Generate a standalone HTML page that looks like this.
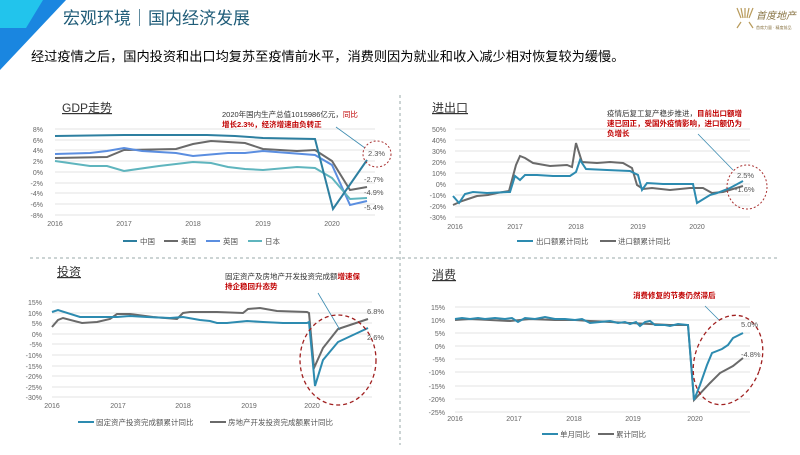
<!DOCTYPE html>
<html><head><meta charset="utf-8"><style>
body{margin:0;width:800px;height:450px;overflow:hidden;background:#fff;font-family:"Liberation Sans","Noto Sans CJK SC",sans-serif}
svg text{font-family:"Liberation Sans","Noto Sans CJK SC",sans-serif}
</style></head><body>
<svg width="800" height="450" viewBox="0 0 800 450" xmlns="http://www.w3.org/2000/svg">
<!-- header -->
<polygon points="0,0 66,0 0,70" fill="#1a86e0"/>
<polygon points="0,0 43,0 26,28 0,28" fill="#22c4ec"/>
<text x="63" y="24" font-size="17" fill="#1f5c78">宏观环境｜国内经济发展</text>
<text x="31" y="61" font-size="13.2" fill="#000">经过疫情之后，国内投资和出口均复苏至疫情前水平，消费则因为就业和收入减少相对恢复较为缓慢。</text>
<g stroke="#b89a5a" stroke-width="1.2">
<line x1="737" y1="8" x2="741" y2="18"/><line x1="741" y1="8" x2="743" y2="18"/><line x1="745" y1="8" x2="745" y2="18"/><line x1="749" y1="8" x2="747" y2="18"/><line x1="753" y1="8" x2="749" y2="18"/>
<line x1="737" y1="28" x2="741" y2="22"/><line x1="753" y1="28" x2="749" y2="22"/>
</g>
<text x="756" y="19" font-size="10" fill="#8a7545" font-style="italic">首度地产</text>
<text x="756" y="29" font-size="4" fill="#8a7545">首席力量 · 精度前品</text>
<!-- dividers -->
<line x1="400" y1="95" x2="400" y2="445" stroke="#9aa" stroke-dasharray="3,3"/>
<line x1="30" y1="258" x2="780" y2="258" stroke="#9aa" stroke-dasharray="3,3"/>

<!-- GDP -->
<text x="62" y="112" font-size="12" fill="#333" text-decoration="underline">GDP走势</text>
<g stroke="#e3e3e3" stroke-width="1">
<line x1="55" y1="129" x2="375" y2="129"/><line x1="55" y1="140" x2="375" y2="140"/><line x1="55" y1="150" x2="375" y2="150"/><line x1="55" y1="161" x2="375" y2="161"/><line x1="55" y1="172" x2="375" y2="172"/><line x1="55" y1="183" x2="375" y2="183"/><line x1="55" y1="193" x2="375" y2="193"/><line x1="55" y1="204" x2="375" y2="204"/><line x1="55" y1="215" x2="375" y2="215"/>
</g>
<g font-size="7" fill="#666" text-anchor="end">
<text x="43" y="132">8%</text><text x="43" y="143">6%</text><text x="43" y="153">4%</text><text x="43" y="164">2%</text><text x="43" y="175">0%</text><text x="43" y="186">-2%</text><text x="43" y="196">-4%</text><text x="43" y="207">-6%</text><text x="43" y="218">-8%</text>
</g>
<g font-size="7" fill="#666" text-anchor="middle">
<text x="55" y="226">2016</text><text x="124" y="226">2017</text><text x="193" y="226">2018</text><text x="263" y="226">2019</text><text x="332" y="226">2020</text>
</g>
<g fill="none" stroke-width="2">
<polyline stroke="#6a6a6a" points="55,158 107,157 124,150 176,149 193,144 211,141 245,143 263,149 297,151 315,150 332,161 350,190 367,187"/>
<polyline stroke="#5b8ee0" points="55,154 90,153 107,151 124,148 142,151 176,153 193,156 228,153 245,153 263,151 315,155 332,165 350,205 367,201"/>
<polyline stroke="#5fb5be" points="55,161 90,166 107,166 124,171 159,166 193,162 211,163 228,167 245,169 263,170 297,167 315,168 332,178 350,199 367,198"/>
<polyline stroke="#2d7fa0" points="55,136 124,135 207,135 235,136 263,138 315,139 333,209 367,160"/>
</g>
<text x="222" y="117" font-size="7.5" fill="#333">2020年国内生产总值1015986亿元，<tspan fill="#c00000">同比</tspan></text>
<text x="222" y="127" font-size="7.5" fill="#c00000" font-weight="bold">增长2.3%，经济增速由负转正</text>
<line x1="365" y1="148" x2="336" y2="127" stroke="#3c8bb0" stroke-width="0.8"/>
<ellipse cx="377" cy="154" rx="14" ry="13" fill="none" stroke="#a33" stroke-dasharray="2,2"/>
<g font-size="7.5" fill="#555"><text x="368" y="156">2.3%</text><text x="364" y="182">-2.7%</text><text x="364" y="195">-4.9%</text><text x="364" y="210">-5.4%</text></g>
<g font-size="7.5" fill="#555">
<line x1="123" y1="241" x2="137" y2="241" stroke="#2d7fa0" stroke-width="2"/><text x="140" y="244">中国</text>
<line x1="164" y1="241" x2="178" y2="241" stroke="#6a6a6a" stroke-width="2"/><text x="181" y="244">美国</text>
<line x1="206" y1="241" x2="220" y2="241" stroke="#5b8ee0" stroke-width="2"/><text x="223" y="244">英国</text>
<line x1="248" y1="241" x2="262" y2="241" stroke="#5fb5be" stroke-width="2"/><text x="265" y="244">日本</text>
</g>

<!-- trade -->
<text x="432" y="112" font-size="12" fill="#333" text-decoration="underline">进出口</text>
<g stroke="#e3e3e3">
<line x1="455" y1="129" x2="750" y2="129"/><line x1="455" y1="140" x2="750" y2="140"/><line x1="455" y1="151" x2="750" y2="151"/><line x1="455" y1="162" x2="750" y2="162"/><line x1="455" y1="173" x2="750" y2="173"/><line x1="455" y1="184" x2="750" y2="184"/><line x1="455" y1="195" x2="750" y2="195"/><line x1="455" y1="206" x2="750" y2="206"/><line x1="455" y1="217" x2="750" y2="217"/>
</g>
<g font-size="7" fill="#666" text-anchor="end">
<text x="446" y="132">50%</text><text x="446" y="143">40%</text><text x="446" y="154">30%</text><text x="446" y="165">20%</text><text x="446" y="176">10%</text><text x="446" y="187">0%</text><text x="446" y="198">-10%</text><text x="446" y="209">-20%</text><text x="446" y="220">-30%</text>
</g>
<g font-size="7" fill="#666" text-anchor="middle">
<text x="455" y="229">2016</text><text x="515" y="229">2017</text><text x="576" y="229">2018</text><text x="638" y="229">2019</text><text x="697" y="229">2020</text>
</g>
<g fill="none" stroke-width="2">
<polyline stroke="#6a6a6a" points="453,205 462,201 468,199 477,196 488,195 497,193 509,191 516,165 520,156 525,158 533,163 550,166 567,165 572,167 576,143 582,162 597,163 610,162 623,163 632,168 637,185 643,189 652,188 670,190 690,188 703,188 712,193 723,192 743,186"/>
<polyline stroke="#2d8bb0" points="453,196 459,203 465,194 473,192 487,193 510,192 515,176 520,180 525,175 537,175 553,176 570,176 576,172 580,160 586,169 607,170 630,171 638,175 642,190 647,183 663,184 693,184 697,203 710,195 717,193 730,188 743,181"/>
</g>
<text x="607" y="116" font-size="7.5" fill="#333">疫情后复工复产稳步推进，<tspan fill="#c00000" font-weight="bold">目前出口额增</tspan></text>
<text x="607" y="126" font-size="7.5" fill="#c00000" font-weight="bold">速已回正，受国外疫情影响，进口额仍为</text>
<text x="607" y="136" font-size="7.5" fill="#c00000" font-weight="bold">负增长</text>
<line x1="733" y1="170" x2="698" y2="134" stroke="#3c8bb0" stroke-width="0.8"/>
<ellipse cx="747" cy="187" rx="20" ry="22" fill="none" stroke="#a33" stroke-dasharray="2,2"/>
<g font-size="7.5" fill="#555"><text x="737" y="178">2.5%</text><text x="735" y="192">-1.6%</text></g>
<g font-size="7.5" fill="#555">
<line x1="517" y1="241" x2="533" y2="241" stroke="#2d8bb0" stroke-width="2"/><text x="536" y="244">出口额累计同比</text>
<line x1="600" y1="241" x2="616" y2="241" stroke="#6a6a6a" stroke-width="2"/><text x="618" y="244">进口额累计同比</text>
</g>

<!-- investment -->
<text x="57" y="276" font-size="12" fill="#333" text-decoration="underline">投资</text>
<g stroke="#e3e3e3">
<line x1="52" y1="302" x2="372" y2="302"/><line x1="52" y1="313" x2="372" y2="313"/><line x1="52" y1="323" x2="372" y2="323"/><line x1="52" y1="334" x2="372" y2="334"/><line x1="52" y1="344" x2="372" y2="344"/><line x1="52" y1="355" x2="372" y2="355"/><line x1="52" y1="366" x2="372" y2="366"/><line x1="52" y1="376" x2="372" y2="376"/><line x1="52" y1="387" x2="372" y2="387"/><line x1="52" y1="397" x2="372" y2="397"/>
</g>
<g font-size="7" fill="#666" text-anchor="end">
<text x="42" y="305">15%</text><text x="42" y="316">10%</text><text x="42" y="326">5%</text><text x="42" y="337">0%</text><text x="42" y="347">-5%</text><text x="42" y="358">-10%</text><text x="42" y="369">-15%</text><text x="42" y="379">-20%</text><text x="42" y="390">-25%</text><text x="42" y="400">-30%</text>
</g>
<g font-size="7" fill="#666" text-anchor="middle">
<text x="52" y="408">2016</text><text x="118" y="408">2017</text><text x="183" y="408">2018</text><text x="249" y="408">2019</text><text x="312" y="408">2020</text>
</g>
<g fill="none" stroke-width="2">
<polyline stroke="#6a6a6a" points="52,327 58,320 63,318 82,323 97,322 110,319 117,314 130,314 153,317 177,319 183,313 190,312 217,312 243,313 248,309 260,308 277,311 307,312 309,313 314,368 323,348 338,329 368,319"/>
<polyline stroke="#2d8bb0" points="52,312 58,310 80,317 97,317 117,317 130,316 147,317 170,318 183,317 200,320 210,321 217,323 227,323 237,322 247,321 263,322 283,323 307,323 309,322 315,386 323,360 338,342 368,328"/>
</g>
<text x="225" y="279" font-size="7.5" fill="#333">固定资产及房地产开发投资完成额<tspan fill="#c00000" font-weight="bold">增速保</tspan></text>
<text x="225" y="289" font-size="7.5" fill="#c00000" font-weight="bold">持企稳回升态势</text>
<line x1="340" y1="330" x2="318" y2="293" stroke="#3c8bb0" stroke-width="0.8"/>
<ellipse cx="338" cy="360" rx="38" ry="45" fill="none" stroke="#a02020" stroke-width="1.3" stroke-dasharray="4,3"/>
<g font-size="7.5" fill="#555"><text x="367" y="314">6.8%</text><text x="367" y="340">2.6%</text></g>
<g font-size="7.5" fill="#555">
<line x1="78" y1="422" x2="94" y2="422" stroke="#2d8bb0" stroke-width="2"/><text x="96" y="425">固定资产投资完成额累计同比</text>
<line x1="210" y1="422" x2="226" y2="422" stroke="#6a6a6a" stroke-width="2"/><text x="228" y="425">房地产开发投资完成额累计同比</text>
</g>

<!-- consumption -->
<text x="432" y="279" font-size="12" fill="#333" text-decoration="underline">消费</text>
<g stroke="#e3e3e3">
<line x1="455" y1="307" x2="750" y2="307"/><line x1="455" y1="320" x2="750" y2="320"/><line x1="455" y1="333" x2="750" y2="333"/><line x1="455" y1="346" x2="750" y2="346"/><line x1="455" y1="359" x2="750" y2="359"/><line x1="455" y1="372" x2="750" y2="372"/><line x1="455" y1="386" x2="750" y2="386"/><line x1="455" y1="399" x2="750" y2="399"/><line x1="455" y1="412" x2="750" y2="412"/>
</g>
<g font-size="7" fill="#666" text-anchor="end">
<text x="445" y="310">15%</text><text x="445" y="323">10%</text><text x="445" y="336">5%</text><text x="445" y="349">0%</text><text x="445" y="362">-5%</text><text x="445" y="375">-10%</text><text x="445" y="389">-15%</text><text x="445" y="402">-20%</text><text x="445" y="415">-25%</text>
</g>
<g font-size="7" fill="#666" text-anchor="middle">
<text x="455" y="421">2016</text><text x="514" y="421">2017</text><text x="574" y="421">2018</text><text x="633" y="421">2019</text><text x="695" y="421">2020</text>
</g>
<g fill="none" stroke-width="2">
<polyline stroke="#6a6a6a" points="455,320 470,319 490,320 510,321 530,319 555,320 575,320 590,321 610,322 630,323 650,324 670,325 688,325 694,400 710,383 720,373 733,366 743,358"/>
<polyline stroke="#2d8bb0" points="455,319 462,318 470,319 478,318 485,319 495,318 505,319 512,318 518,322 525,318 535,319 545,317 555,319 565,319 575,320 582,319 590,323 600,322 610,321 618,323 625,322 630,324 636,322 640,326 645,322 650,321 655,325 665,325 670,326 678,324 688,325 694,400 700,385 707,365 712,353 722,349 728,345 733,338 743,333"/>
</g>
<text x="633" y="298" font-size="7.5" fill="#c00000" font-weight="bold">消费修复的节奏仍然滞后</text>
<line x1="719" y1="320" x2="705" y2="306" stroke="#3c8bb0" stroke-width="0.8"/>
<ellipse cx="728" cy="360" rx="33" ry="46" transform="rotate(20 728 360)" fill="none" stroke="#a02020" stroke-width="1.3" stroke-dasharray="4,3"/>
<g font-size="7.5" fill="#555"><text x="741" y="327">5.0%</text><text x="741" y="357">-4.8%</text></g>
<g font-size="7.5" fill="#555">
<line x1="542" y1="434" x2="558" y2="434" stroke="#2d8bb0" stroke-width="2"/><text x="560" y="437">单月同比</text>
<line x1="598" y1="434" x2="614" y2="434" stroke="#6a6a6a" stroke-width="2"/><text x="616" y="437">累计同比</text>
</g>
</svg>
</body></html>
